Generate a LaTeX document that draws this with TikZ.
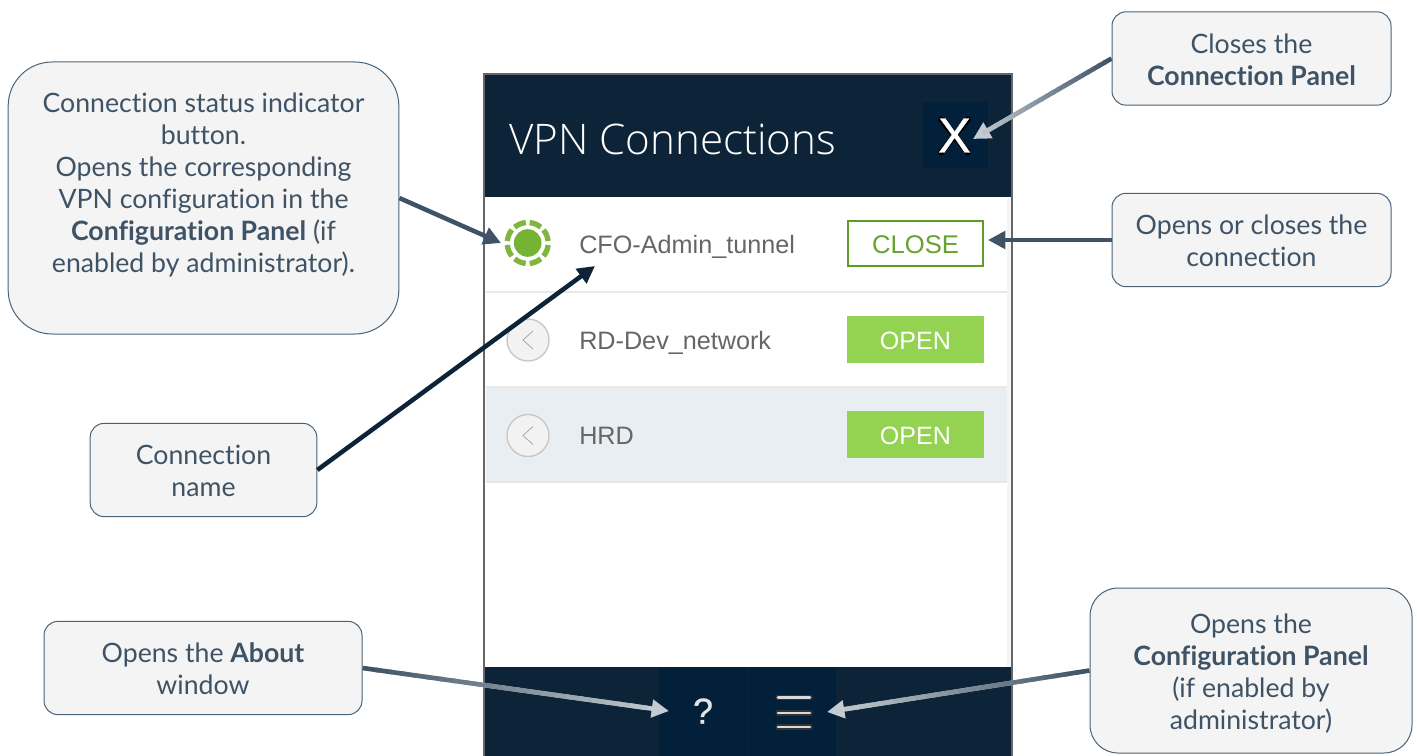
\documentclass[tikz,border=0pt]{standalone}
\usepackage{fontspec}
\setmainfont{Lato}[Ligatures=NoCommon]
\newfontfamily\uifont{Liberation Sans}
\newfontfamily\uiboldfont[FakeBold=0.7]{Liberation Sans}
\newfontfamily\titlefont[UprightFont=* Light]{Open Sans}
\usetikzlibrary{arrows.meta,calc}
\definecolor{navy}{HTML}{0D2438}
\definecolor{navyhi}{HTML}{03203A}
\definecolor{ink}{HTML}{3F5366}
\definecolor{boxfill}{HTML}{F4F4F4}
\definecolor{boxline}{HTML}{4A6378}
\definecolor{arrowlight}{HTML}{C4CCD1}
\definecolor{rowblue}{HTML}{E9EEF2}
\definecolor{sepgray}{HTML}{E8E8E8}
\definecolor{uigray}{HTML}{666666}
\definecolor{okgreen}{HTML}{94D251}
\definecolor{closegreen}{HTML}{5F9A2B}
\definecolor{dotgreen}{HTML}{76B233}
\definecolor{ringgreen}{HTML}{7FB63E}
\newcommand{\gradarrow}[4]{%
  \draw[callarrow,draw=#4,fill=#4] (#1) -- (#2);
  \foreach \i [evaluate=\i as \s using \i/24, evaluate=\i as \e using (\i+1.3)/24, evaluate=\i as \m using 100-\i*100/23] in {0,...,21}{
    \draw[line width=3.4pt,#3!\m!#4] ($(#1)!\s!(#2)$) -- ($(#1)!\e!(#2)$);
  }%
}
\newcommand{\nudge}{\rule{0pt}{16.3pt}}
\newcommand{\nudgebig}{\rule{0pt}{19.3pt}}
\newcommand{\btnnudge}{\rule{0pt}{15pt}}
\tikzset{
  callout/.style={draw=boxline,line width=0.75pt,fill=boxfill,text=ink,align=center,
    font=\fontsize{20}{24}\selectfont,inner sep=0pt},
  callarrow/.style={line width=3.4pt,-{Triangle[length=13pt,width=13pt]}},
  rowname/.style={anchor=base west,text=uigray,font=\uifont\fontsize{18.9}{22}\selectfont,inner sep=0pt},
  openbtn/.style={fill=okgreen,text=white,minimum width=102.75pt,minimum height=35.5pt,inner sep=0pt,
    font=\uifont\fontsize{18.8}{22}\selectfont},
  rowdot/.style={circle,draw=black!22,line width=1pt,fill=black!5,minimum size=31.5pt,inner sep=0pt},
  chev/.style={draw=black!35,line width=0.6pt},
  sepline/.style={draw=sepgray,line width=1.5pt},
  barhi/.style={fill=navyhi},
  burger/.style={draw=white!85!black,line width=1.9pt,line cap=round},
  burgershade/.style={draw=black!80,line width=3.9pt,line cap=round},
  ringarc/.style={draw=ringgreen,line width=4pt},
}
\begin{document}
\begin{tikzpicture}[x=0.75pt,y=-0.75pt]
\useasboundingbox (0,0) rectangle (1417,756);
% panel
\fill[white] (484,74) rectangle (1012,756);
\fill[black!4] (1007,198) rectangle (1012,667);
\fill[navy] (484,74) rectangle (1012,197);
\fill[navy] (484,667) rectangle (1012,756);
\fill[rowblue] (486,387) rectangle (1007,481);
\draw[sepline] (486,291.5) -- (1007,291.5);
\draw[sepline] (486,386.5) -- (1007,386.5);
\draw[sepline] (486,482) -- (1007,482);
\draw[draw=black!60,line width=1.5pt] (484,756) -- (484,74.5) -- (1012,74.5) -- (1012,756);
% header
\node[anchor=base west,text=white,inner sep=0pt,font=\titlefont\fontsize{31.6}{36}\selectfont] (title) at (509,155) {VPN Connections};
\fill[barhi] (923,102) rectangle (988,168);
\draw[black,line width=4.4pt,line cap=round] (941,119.5) -- (968,152.5) (968,119.5) -- (941,152.5);
\node[text=white,inner sep=0pt,font=\uiboldfont\fontsize{37}{40}\selectfont] (xbtn) at (954.5,135.5) {X};
% rows
\node[circle,fill=dotgreen,minimum size=20.7pt,inner sep=0pt] (status) at (527.7,243) {};
\foreach \a in {22.5,67.5,...,337.5}{
  \draw[ringarc] ($(status.center)+(\a-17:20.5)$) arc[start angle=\a-17,end angle=\a+17,radius=20.5];
}
\node[rowname] (n1) at (579,253.5) {CFO-Admin\_tunnel};
\node[draw=closegreen,line width=1.5pt,text=closegreen!85!okgreen,minimum width=101pt,minimum height=34pt,inner sep=0pt,
  font=\uifont\fontsize{19.2}{22}\selectfont] (closebtn) at (915.5,243.5) {\btnnudge CLOSE};
\node[rowdot] (d2) at (528,340) {};
\draw[chev] (533,331) -- (523,340) -- (533,349);
\node[rowname] (n2) at (579,349.5) {RD-Dev\_network};
\node[openbtn] (o2) at (915.5,339.5) {\btnnudge OPEN};
\node[rowdot] (d3) at (528,435.5) {};
\draw[chev] (533,426.5) -- (523,435.5) -- (533,444.5);
\node[rowname] (n3) at (579,444.5) {HRD};
\node[openbtn] (o3) at (915.5,434.5) {\btnnudge OPEN};
% footer
\fill[barhi] (659,667) rectangle (747,756);
\fill[barhi] (748,667) rectangle (836,756);
\node[text=white!90!black,inner sep=0pt,font=\uiboldfont\fontsize{27}{30}\selectfont] (help) at (703,711) {?};
\foreach \yy in {697.5,713,727}{
  \draw[burgershade] (778,\yy) -- (810,\yy);
  \draw[burger] (778,\yy) -- (810,\yy);
}
% callouts
\node[callout,rounded corners=33pt,minimum width=293pt,minimum height=204pt] (cstatus) at (203.5,198) {%
  \nudge Connection status indicator\\button.\\Opens the corresponding\\VPN configuration in the\\\textbf{Configuration Panel} (if\\enabled by administrator).\\\mbox{}};
\node[callout,rounded corners=10.5pt,minimum width=209.25pt,minimum height=70pt] (cclose) at (1251.5,58.5) {\nudge Closes the\\\textbf{Connection Panel}};
\node[callout,rounded corners=10.5pt,minimum width=209.25pt,minimum height=70pt] (copen) at (1251.5,240) {\nudge Opens or closes the\\connection};
\node[callout,rounded corners=10.5pt,minimum width=170pt,minimum height=70pt] (cname) at (203.5,470) {\nudge Connection\\name};
\node[callout,rounded corners=10.5pt,minimum width=238.5pt,minimum height=70pt] (cabout) at (203,668) {\nudge Opens the \textbf{About}\\window};
\node[callout,rounded corners=21pt,minimum width=241.5pt,minimum height=123.75pt] (cconfig) at (1251,670.5) {\nudgebig Opens the\\\textbf{Configuration Panel}\\(if enabled by\\administrator)};
% arrow ends
\coordinate (txbtn) at (973,139);
\coordinate (tstatus) at (501,243);
\coordinate (tclose) at (988,240);
\coordinate (tname) at (595,266);
\coordinate (thelp) at (669,711);
\coordinate (tmenu) at (827,712);
% connectors
\draw[callarrow,draw=ink,fill=ink] (cstatus.east) -- (tstatus);
\draw[callarrow,draw=ink,fill=ink] (copen.west) -- (tclose);
\draw[callarrow,draw=navy,fill=navy] (cname.east) -- (tname);
\gradarrow{cclose.west}{txbtn}{ink}{arrowlight}
\gradarrow{cabout.east}{thelp}{ink}{arrowlight}
\gradarrow{cconfig.west}{tmenu}{ink}{arrowlight}
\end{tikzpicture}
\end{document}
